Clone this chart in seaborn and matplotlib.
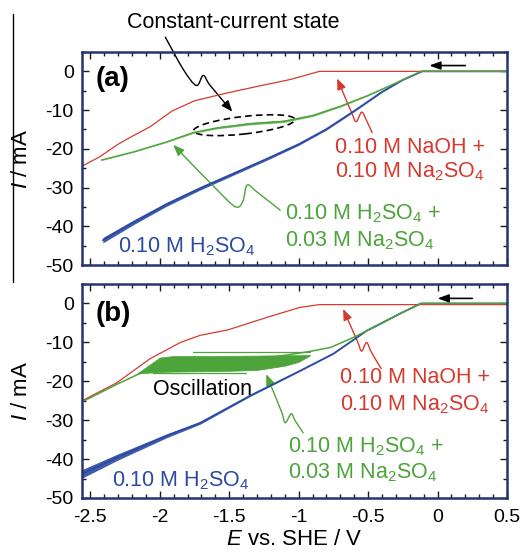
import numpy as np
import matplotlib
matplotlib.use("Agg")
import matplotlib.pyplot as plt
import seaborn as sns
from matplotlib.path import Path
from matplotlib.patches import FancyArrowPatch, Ellipse
from matplotlib.lines import Line2D
import matplotlib.transforms as mtrans
from matplotlib.ticker import MultipleLocator, FixedLocator, FixedFormatter

# ---------------- data ----------------
# panel (a)
E_a_red = [-2.56, -2.43, -2.3, -2.2, -2.07, -1.91, -1.75, -1.53, -1.3, -1.06, -0.95, -0.85, 0.5]
I_a_red = [-24.5, -22.0, -18.8, -16.8, -14.3, -10.2, -7.6, -5.7, -3.9, -2.1, -1.0, 0.0, 0.0]

E_a_grn = [-2.42, -2.19, -1.95, -1.76, -1.59, -1.35, -1.11, -0.9, -0.7, -0.5, -0.3, -0.12, 0.5]
I_a_grn = [-22.9, -20.8, -18.2, -15.8, -14.6, -13.5, -12.9, -11.4, -9.0, -6.2, -3.0, 0.0, 0.0]
ripple_a_grn = [0.1, 0.1, 0.12, 0.2, 0.25, 0.3, 0.3, 0.25, 0.2, 0.12, 0.05, 0.0, 0.0]

E_a_blu = [-2.41, -2.19, -1.95, -1.71, -1.47, -1.23, -1.0, -0.8, -0.6, -0.4, -0.25, -0.11, 0.5]
I_a_blu = [-43.6, -39.0, -34.3, -30.2, -26.4, -22.6, -18.8, -14.9, -10.2, -5.3, -2.2, 0.0, 0.0]
noise_a_blu = [0.7, 0.6, 0.5, 0.45, 0.4, 0.35, 0.3, 0.25, 0.2, 0.12, 0.05, 0.0, 0.0]

# panel (b)
E_b_red = [-2.56, -2.31, -2.07, -1.85, -1.71, -1.51, -1.23, -0.99, -0.85, 0.5]
I_b_red = [-25.0, -20.4, -14.2, -10.0, -8.2, -6.8, -3.6, -1.0, -0.3, -0.3]

E_b_grn = [-2.56, -2.31, -2.12, -2.0, -1.5, -0.93, -0.77, -0.61, -0.45, -0.27, -0.12, 0.5]
I_b_grn = [-25.3, -20.8, -17.6, -17.5, -15.5, -12.4, -11.3, -8.8, -6.0, -2.6, 0.0, 0.0]

E_osc = [-2.16, -2.0, -1.9, -1.6, -1.3, -1.1, -1.0, -0.92]
I_osc_hi = [-17.9, -13.9, -13.5, -13.5, -13.4, -13.3, -13.3, -13.2]
I_osc_lo = [-18.0, -17.6, -17.5, -17.4, -17.1, -16.0, -15.0, -13.4]
E_osc_top = [-1.76, -0.92]
I_osc_top = [-12.4, -12.4]
E_osc_bot = [-2.05, -1.38]
I_osc_bot = [-17.8, -17.8]

E_b_blu = [-2.56, -2.31, -1.95, -1.71, -1.35, -0.99, -0.75, -0.51, -0.27, -0.12, 0.5]
I_b_blu = [-43.8, -39.6, -34.0, -30.7, -23.7, -17.3, -12.9, -7.0, -2.6, 0.0, 0.0]
noise_b_blu = [1.1, 0.8, 0.5, 0.35, 0.2, 0.12, 0.1, 0.05, 0.05, 0.0, 0.0]

x_ticks = [-2.5, -2, -1.5, -1, -0.5, 0, 0.5]
x_ticklabels = ["-2.5", "-2", "-1.5", "-1", "-0.5", "0", "0.5"]
y_ticks = [0, -10, -20, -30, -40, -50]
y_ticklabels = ["0", "-10", "-20", "-30", "-40", "-50"]

lbl_red1 = "0.10 M NaOH +"
lbl_red2 = "0.10 M Na$_2$SO$_4$"
lbl_grn1 = "0.10 M H$_2$SO$_4$ +"
lbl_grn2 = "0.03 M Na$_2$SO$_4$"
lbl_blu = "0.10 M H$_2$SO$_4$"

# ---------------- style ----------------
sns.set_style("ticks")
plt.rcParams["font.family"] = ["Liberation Sans", "DejaVu Sans"]
plt.rcParams["mathtext.fontset"] = "custom"
plt.rcParams["mathtext.rm"] = "Liberation Sans"
plt.rcParams["mathtext.it"] = "Liberation Sans:italic"
plt.rcParams["mathtext.default"] = "regular"
plt.rcParams["axes.unicode_minus"] = False
plt.rcParams["text.color"] = "black"
plt.rcParams["axes.labelcolor"] = "black"
plt.rcParams["xtick.color"] = "black"
plt.rcParams["ytick.color"] = "black"

RED = "#d63a2f"
GRN = "#4ca43a"
BLU = "#2b4ba3"
NAVY = "#26346e"

fig = plt.figure(figsize=(5.28, 5.53), dpi=100)
ax_a = fig.add_axes([82 / 528, (553 - 265) / 553, 425 / 528, 213 / 553])
ax_b = fig.add_axes([82 / 528, (553 - 498) / 553, 425 / 528, 214 / 553])


def smooth_path(pts):
    pts = np.asarray(pts, float)
    n = len(pts)
    verts = [pts[0]]
    codes = [Path.MOVETO]
    for i in range(n - 1):
        p0 = pts[max(i - 1, 0)]
        p1 = pts[i]
        p2 = pts[i + 1]
        p3 = pts[min(i + 2, n - 1)]
        verts += [p1 + (p2 - p0) / 6, p2 - (p3 - p1) / 6, p2]
        codes += [Path.CURVE4] * 3
    return Path(verts, codes)


def squiggle(ax, pts, color):
    arr = FancyArrowPatch(path=smooth_path(pts),
                          arrowstyle="-|>,head_length=0.55,head_width=0.22",
                          mutation_scale=12, color=color, lw=1.0,
                          clip_on=False)
    ax.add_patch(arr)


def style_axes(ax, show_xlabels):
    ax.set_xlim(-2.56, 0.5)
    ax.set_ylim(-50, 5)
    ax.xaxis.set_major_locator(FixedLocator(x_ticks))
    ax.xaxis.set_minor_locator(MultipleLocator(0.1))
    ax.yaxis.set_major_locator(FixedLocator(y_ticks))
    ax.yaxis.set_major_formatter(FixedFormatter(y_ticklabels))
    ax.yaxis.set_minor_locator(MultipleLocator(5))
    if show_xlabels:
        ax.xaxis.set_major_formatter(FixedFormatter(x_ticklabels))
    else:
        ax.set_xticklabels([])
    ax.tick_params(which="both", direction="in", top=True, right=True,
                   color="#1a1a1a", width=1.0, labelcolor="black")
    ax.tick_params(which="major", length=5)
    ax.tick_params(which="minor", length=3)
    ax.tick_params(axis="y", labelsize=14, pad=6)
    ax.tick_params(axis="x", labelsize=14, pad=8)
    for s in ax.spines.values():
        s.set_visible(True)
        s.set_color(NAVY)
        s.set_linewidth(1.8)
    ax.set_ylabel("$\\mathit{I}$ / mA", fontsize=16, color="black")
    ax.yaxis.set_label_coords(-0.118, 0.5)
    ax.set_xlabel("")


# ---------------- panel (a) ----------------
ax = ax_a
ax.fill_between(E_a_blu, np.array(I_a_blu) - np.array(noise_a_blu),
                np.array(I_a_blu) + np.array(noise_a_blu), color=BLU, lw=0, alpha=0.9)
sns.lineplot(x=E_a_blu, y=I_a_blu, ax=ax, color=BLU, linewidth=1.2, sort=False, estimator=None)
sns.lineplot(x=E_a_red, y=I_a_red, ax=ax, color=RED, linewidth=0.9, sort=False, estimator=None)
ax.fill_between(E_a_grn, np.array(I_a_grn) - np.array(ripple_a_grn),
                np.array(I_a_grn) + np.array(ripple_a_grn), color=GRN, lw=0, alpha=0.8)
sns.lineplot(x=E_a_grn, y=I_a_grn, ax=ax, color=GRN, linewidth=1.0, sort=False, estimator=None)
style_axes(ax, False)

ax.text(-2.464, -2.1, "(a)", fontsize=20, fontweight="bold", ha="left", va="center")
ax.text(-0.737, -21.2, lbl_red1, color=RED, fontsize=15.5, ha="left", va="baseline")
ax.text(-0.737, -27.4, lbl_red2, color=RED, fontsize=15.5, ha="left", va="baseline")
ax.text(-1.097, -38.3, lbl_grn1, color=GRN, fontsize=15.5, ha="left", va="baseline")
ax.text(-1.097, -45.1, lbl_grn2, color=GRN, fontsize=15.5, ha="left", va="baseline")
ax.text(-2.299, -46.8, lbl_blu, color=BLU, fontsize=15.5, ha="left", va="baseline")
fig.text(127 / 528, 1 - 23 / 553, "Constant-current state", fontsize=15.5,
         ha="left", va="center", color="black")

ell_tr = fig.dpi_scale_trans + mtrans.ScaledTranslation(-1.392, -13.9, ax.transData)
ax.add_patch(Ellipse((0, 0), width=1.02, height=0.175, angle=6.5, transform=ell_tr,
                     fill=False, ec="black", lw=1.2, ls=(0, (4, 2.5))))

squiggle(ax, [(-1.960, 8.83), (-1.831, 0.52), (-1.737, -3.64), (-1.687, -1.04),
              (-1.637, -3.64), (-1.478, -10.39)], "black")
squiggle(ax, [(-0.471, -15.84), (-0.514, -12.47), (-0.547, -10.52), (-0.586, -12.99),
              (-0.622, -10.39), (-0.723, -1.82)], RED)
squiggle(ax, [(-1.133, -35.84), (-1.299, -31.17), (-1.371, -29.35), (-1.399, -33.25),
              (-1.442, -35.06), (-1.536, -32.47), (-1.903, -18.96)], GRN)
ax.annotate("", xy=(-0.06, 1.5), xytext=(0.2, 1.5),
            arrowprops=dict(arrowstyle="-|>,head_length=0.55,head_width=0.2",
                            color="black", lw=1.2, mutation_scale=12,
                            shrinkA=0, shrinkB=0))

# ---------------- panel (b) ----------------
ax = ax_b
ax.fill_between(E_b_blu, np.array(I_b_blu) - np.array(noise_b_blu),
                np.array(I_b_blu) + np.array(noise_b_blu), color=BLU, lw=0, alpha=0.9)
sns.lineplot(x=E_b_blu, y=I_b_blu, ax=ax, color=BLU, linewidth=1.2, sort=False, estimator=None)
sns.lineplot(x=E_b_red, y=I_b_red, ax=ax, color=RED, linewidth=0.9, sort=False, estimator=None)
sns.lineplot(x=E_b_grn, y=I_b_grn, ax=ax, color=GRN, linewidth=1.1, sort=False, estimator=None)
ax.fill_between(E_osc, I_osc_lo, I_osc_hi, color=GRN, lw=0.5, ec=GRN)
sns.lineplot(x=E_osc_top, y=I_osc_top, ax=ax, color=GRN, linewidth=0.9, sort=False, estimator=None)
sns.lineplot(x=E_osc_bot, y=I_osc_bot, ax=ax, color=GRN, linewidth=0.9, sort=False, estimator=None)
style_axes(ax, True)
ax.set_xlabel("$\\mathit{E}$ vs. SHE / V", fontsize=16, color="black")
ax.xaxis.set_label_coords(0.5, -0.145)

ax.text(-2.464, -2.6, "(b)", fontsize=20, fontweight="bold", ha="left", va="center")
ax.text(-0.701, -20.5, lbl_red1, color=RED, fontsize=15.5, ha="left", va="baseline")
ax.text(-0.701, -27.45, lbl_red2, color=RED, fontsize=15.5, ha="left", va="baseline")
ax.text(-1.076, -38.3, lbl_grn1, color=GRN, fontsize=15.5, ha="left", va="baseline")
ax.text(-1.076, -45.0, lbl_grn2, color=GRN, fontsize=15.5, ha="left", va="baseline")
ax.text(-2.342, -47.0, lbl_blu, color=BLU, fontsize=15.5, ha="left", va="baseline")
ax.text(-2.047, -23.6, "Oscillation", color="black", fontsize=15.5, ha="left", va="baseline")

squiggle(ax, [(-0.406, -16.75), (-0.475, -12.63), (-0.511, -10.05), (-0.547, -12.24),
              (-0.579, -9.54), (-0.680, -1.42)], RED)
squiggle(ax, [(-0.968, -33.25), (-1.025, -30.15), (-1.054, -28.35), (-1.097, -30.67),
              (-1.126, -27.58), (-1.234, -18.17)], GRN)
ax.annotate("", xy=(0.0, 1.3), xytext=(0.25, 1.3),
            arrowprops=dict(arrowstyle="-|>,head_length=0.55,head_width=0.2",
                            color="black", lw=1.2, mutation_scale=12,
                            shrinkA=0, shrinkB=0))

# thin vertical rule at the left edge of the original figure
fig.add_artist(Line2D([13 / 528, 13 / 528], [1 - 14 / 553, 1 - 282 / 553],
                      transform=fig.transFigure, color="black", lw=1.0))

fig.savefig("out.png", dpi=100)
